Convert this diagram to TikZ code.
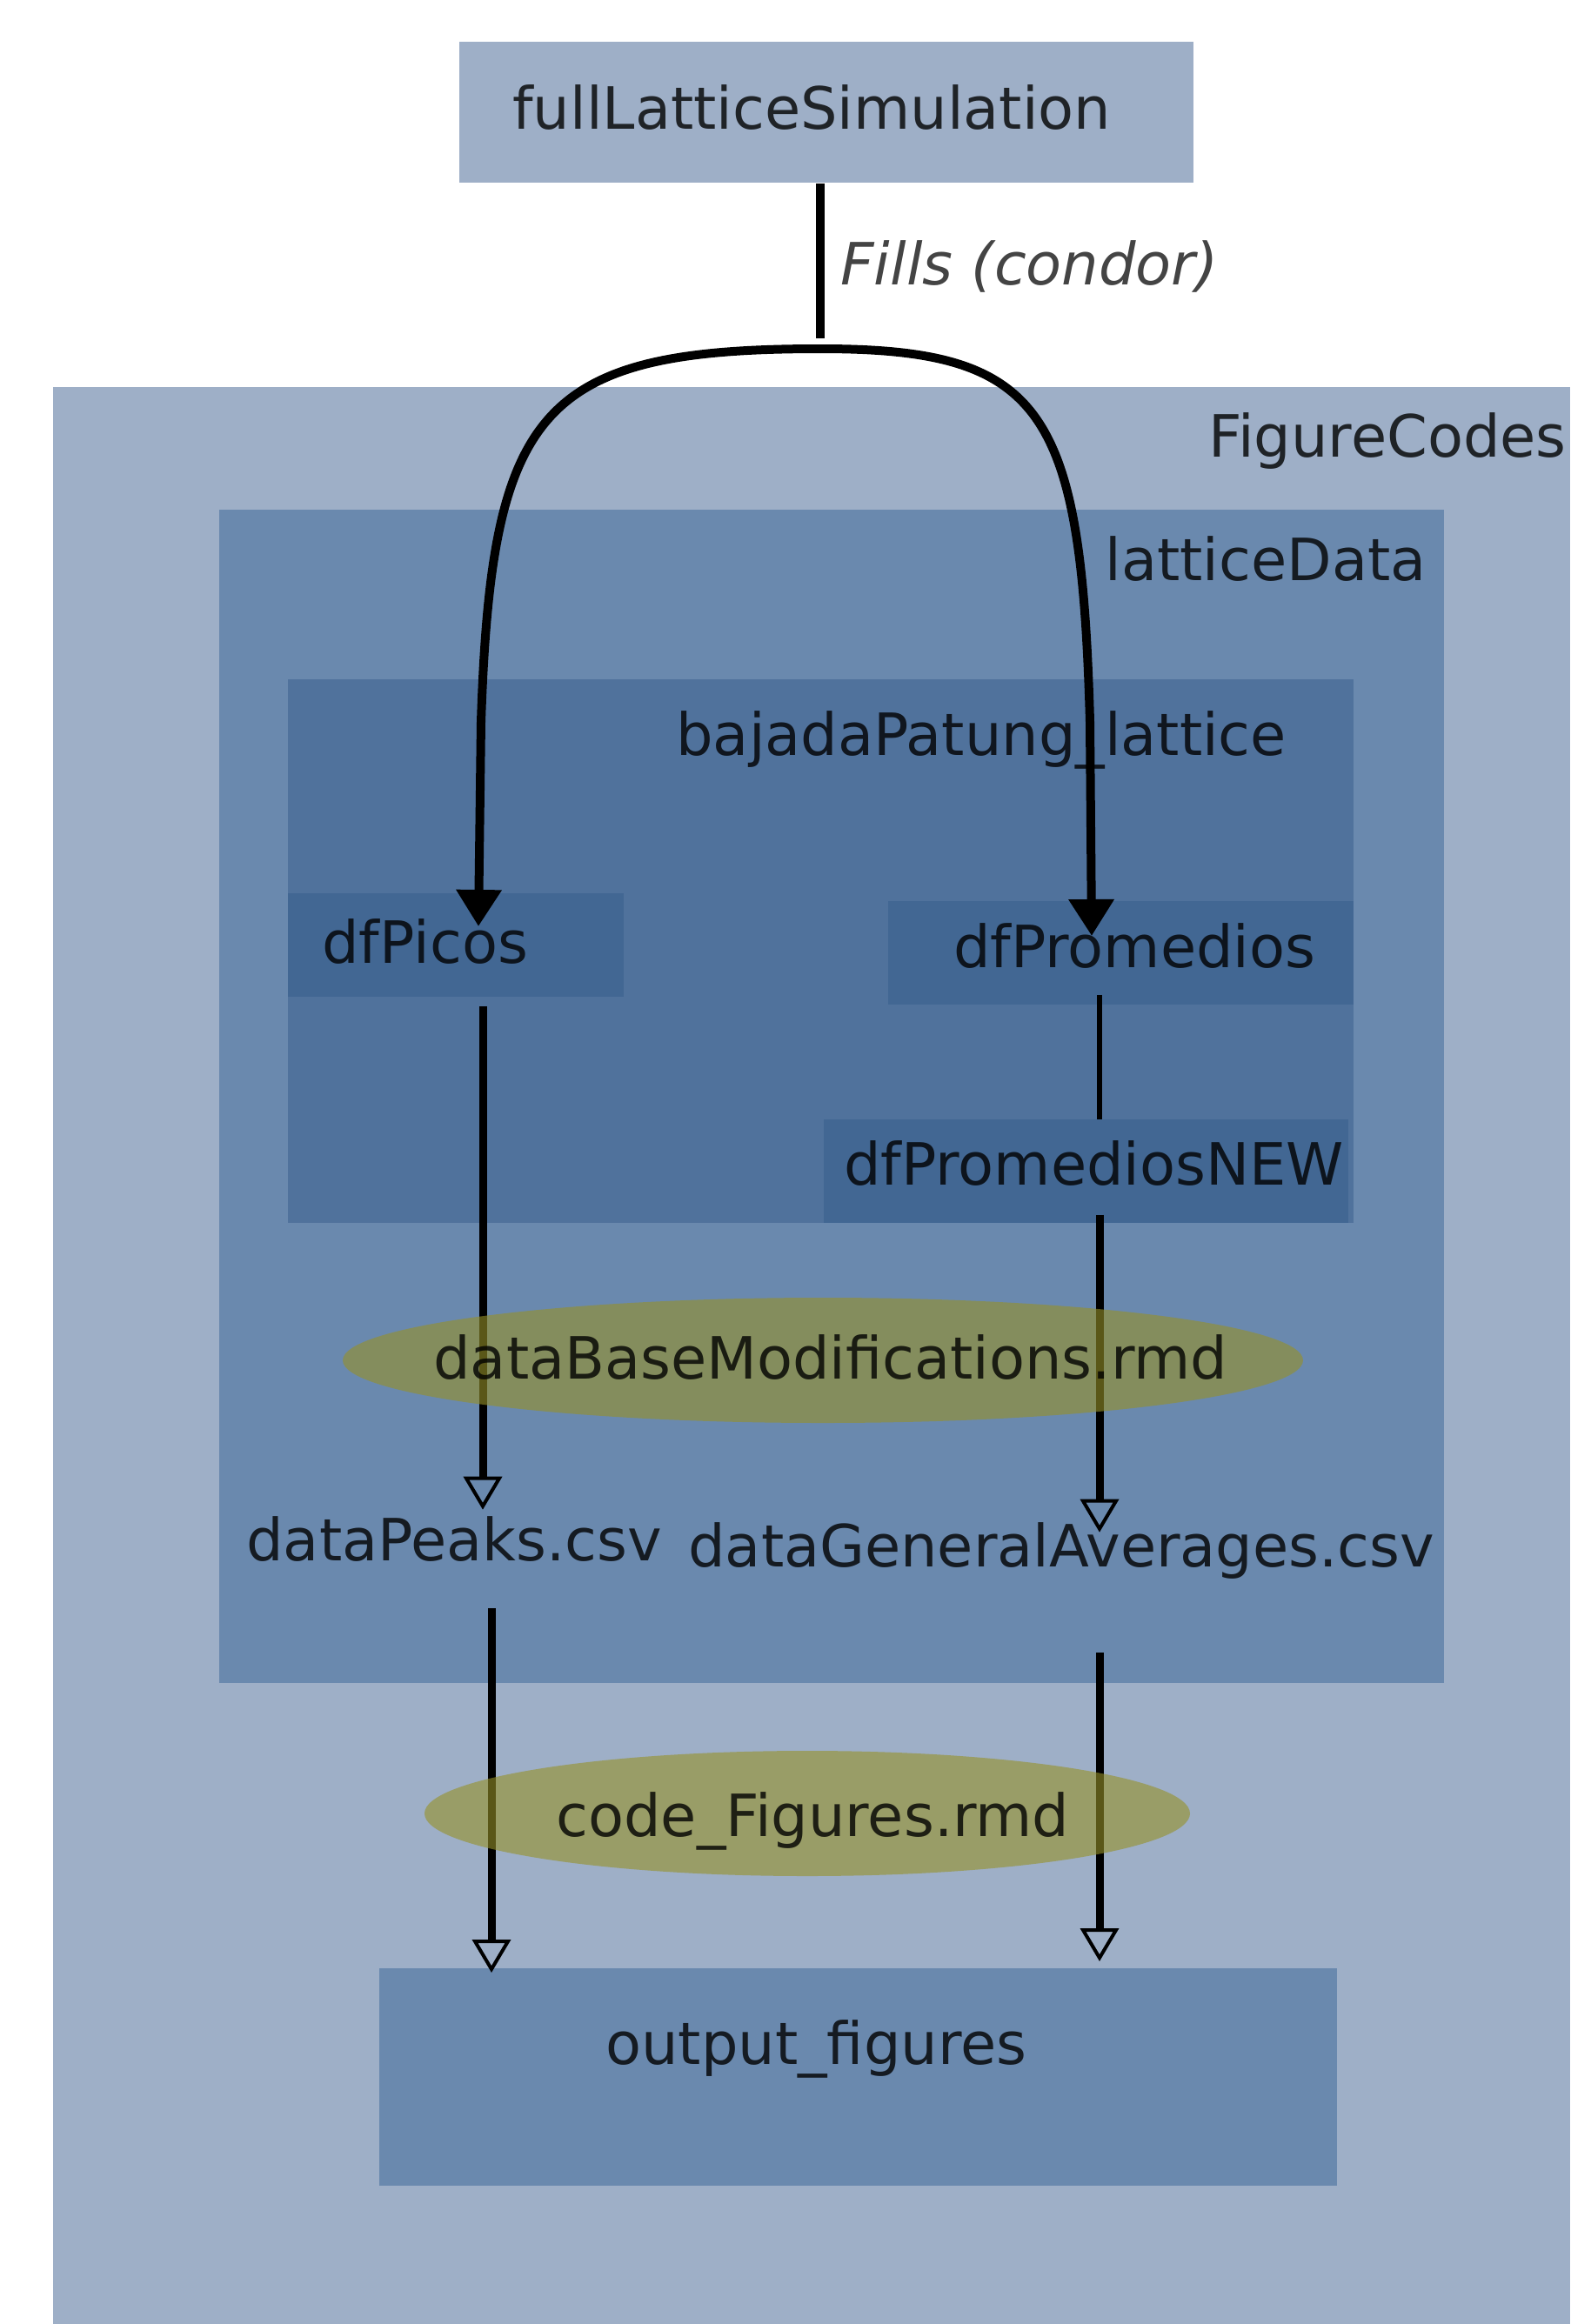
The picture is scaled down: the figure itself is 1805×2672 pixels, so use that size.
\documentclass[tikz,border=0pt]{standalone}
\usepackage{fontspec}
\setmainfont{DejaVu Sans}
\usetikzlibrary{arrows.meta,shapes.geometric}
\definecolor{paleblue}{HTML}{9EAFC7}
\definecolor{midblue}{HTML}{6A89AE}
\definecolor{deepblue}{HTML}{50729C}
\definecolor{dfblue}{HTML}{426793}
\definecolor{rmdolive}{RGB}{150,145,40}
\definecolor{edgegray}{HTML}{444444}
\begin{document}
\begin{tikzpicture}[x=0.5pt,y=-0.5pt,
  txt/.style={font=\fontsize{33.5}{40}\selectfont,text=black,text opacity=0.8,inner sep=0pt,anchor=base west},
  box/.style={fill=#1,inner sep=0pt,anchor=north west},
  rmd/.style={ellipse,fill=rmdolive,fill opacity=0.6,inner sep=0pt,minimum width=#1,minimum height=72pt},
  fillsarrow/.style={line width=5pt,-{Triangle[length=21pt,width=25pt]}},
  flow/.style={line width=4.5pt,-{Triangle[open,length=19pt,width=22pt,line width=2pt]}}]
\useasboundingbox (0,0) rectangle (1805,2672);

\node[box=paleblue,minimum width=872pt,minimum height=1113.5pt] (figcodes) at (61,445) {};
\node[box=midblue,minimum width=704pt,minimum height=674.5pt] (lattice) at (252,586) {};
\node[box=deepblue,minimum width=612.5pt,minimum height=312.5pt] (bajada) at (331,781) {};
\node[box=dfblue,minimum width=193pt,minimum height=59.5pt] (picosbox) at (331,1027) {};
\node[box=dfblue,minimum width=267.5pt,minimum height=59.5pt] (promediosbox) at (1021,1036) {};
\node[box=dfblue,minimum width=301.5pt,minimum height=59.5pt] (newbox) at (947,1287) {};
\node[box=midblue,minimum width=550.5pt,minimum height=125pt] (outbox) at (436,2263) {};
\node[box=paleblue,minimum width=422pt,minimum height=81pt] (simbox) at (528,48) {};

\node[txt] (simtext) at (589,148) {fullLatticeSimulation};
\node[txt,text=edgegray,text opacity=1,font=\fontsize{33.5}{40}\selectfont\itshape] (fillslabel) at (966,327) {Fills (condor)};
\node[txt,anchor=base east] (figcodeslabel) at (1801,525) {FigureCodes};
\node[txt,anchor=base east] (latticelabel) at (1640,667) {latticeData};
\node[txt] (bajadalabel) at (777,868) {bajadaPatung\_lattice};
\node[txt] (picos) at (370,1107) {dfPicos};
\node[txt] (promedios) at (1096,1112) {dfPromedios};
\node[txt] (promediosnew) at (970,1362) {dfPromediosNEW};
\node[txt] (peaks) at (283,1794) {dataPeaks.csv};
\node[txt] (averages) at (791,1801) {dataGeneralAverages.csv};
\node[txt] (outtext) at (696,2373) {output\_figures};

\coordinate (fork) at (943,389);
\coordinate (split) at (943,401);
\coordinate (picostip) at (550,1065);
\coordinate (promediostip) at (1255,1076);
\coordinate (colL) at (555,0);
\coordinate (colL2) at (565,0);
\coordinate (colR) at (1264,0);

\draw[line width=5pt] (simbox.south -| fork) -- (fork);
\draw[fillsarrow] (split) .. controls (620,401) and (565,470) .. (553,830) -- (picostip);
\draw[fillsarrow] (split) .. controls (1200,401) and (1243,470) .. (1253,830) -- (promediostip);

\draw[line width=3pt] ([yshift=6pt]promediosbox.south -| colR) -- (newbox.north -| colR);
\draw[flow,shorten <=5pt] (picosbox.south -| colL) -- ([yshift=3.5pt]peaks.north -| colL);
\draw[flow] ([yshift=5pt]newbox.south -| colR) -- ([yshift=-6pt]averages.north -| colR);
\draw[flow,shorten <=27pt] (peaks.south -| colL2) -- ([yshift=-2.5pt]outbox.north -| colL2);
\draw[flow,shorten <=42.5pt] (averages.south -| colR) -- ([yshift=4pt]outbox.north -| colR);

\node[rmd=552pt] (dbmod) at (946,1564) {};
\node[rmd=440pt] (codefig) at (928,2085) {};
\node[txt] (dbmodtext) at (498,1585) {dataBaseModifications.rmd};
\node[txt] (codefigtext) at (639,2111) {code\_Figures.rmd};
\end{tikzpicture}
\end{document}
